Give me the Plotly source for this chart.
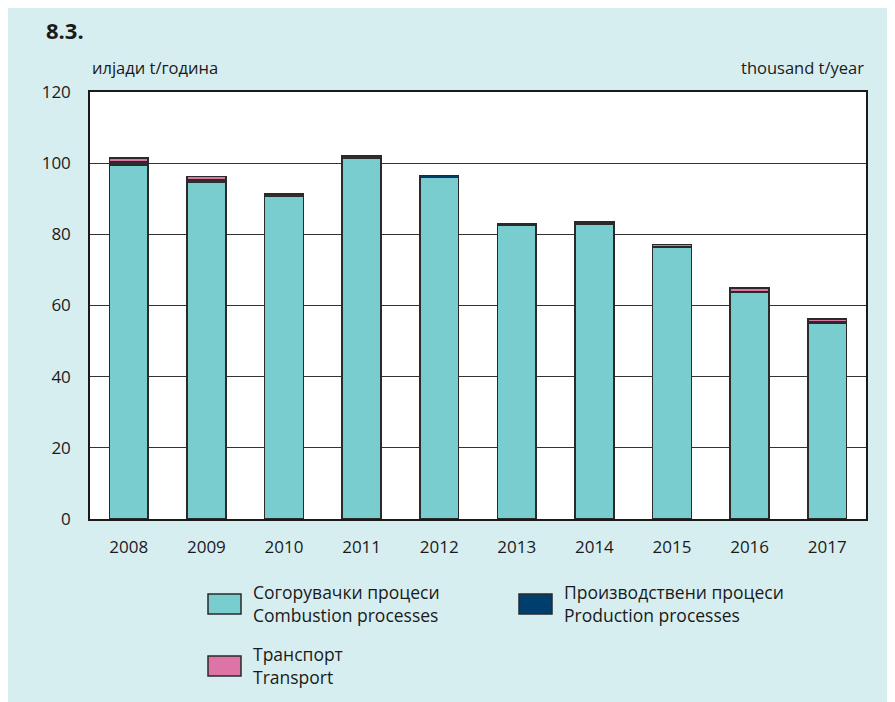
import plotly.graph_objects as go

years = ["2008", "2009", "2010", "2011", "2012", "2013", "2014", "2015", "2016", "2017"]
combustion = [99.5, 94.5, 90.6, 101.3, 96.0, 82.6, 82.8, 76.3, 63.6, 55.1]
production = [0.8, 0.8, 0.7, 0.7, 0.5, 0.4, 0.4, 0.3, 0.3, 0.2]
transport = [1.2, 1.0, 0.0, 0.1, 0.0, 0.0, 0.4, 0.6, 1.0, 0.9]

names = [
    ("Согорувачки процеси", "Combustion processes"),
    ("Производствени процеси", "Production processes"),
    ("Транспорт", "Transport"),
]
colors = ["#79cdcf", "#003e6e", "#dd74a6"]
series = [combustion, production, transport]

BG = "#d7eef0"
FONT = "Open Sans"

# page offset of the plot div (body margin)
OFF = 8
PL, PR, PT, PB = 90, 866, 92, 519  # plot area in page px
W, H = 895, 702


def px(x):
    return (x - PL) / (PR - PL)


def py(y):
    return (PB - y) / (PB - PT)


fig = go.Figure()
for (mk, en), vals, col in zip(names, series, colors):
    fig.add_trace(go.Bar(
        x=years, y=vals, name=en,
        marker=dict(color=col, line=dict(color="#2a2a2a", width=1.5)),
        width=0.5, showlegend=False,
    ))

fig.update_layout(
    barmode="stack",
    width=W, height=H,
    paper_bgcolor=BG, plot_bgcolor="white",
    margin=dict(l=PL - OFF, r=W - (PR - OFF), t=PT - OFF, b=H - (PB - OFF), autoexpand=False),
    font=dict(family=FONT, size=16, color="#1a1a1a"),
    xaxis=dict(showline=True, linecolor="#1a1a1a", linewidth=1.5, mirror=True,
               ticks="outside", ticklen=12, tickcolor="rgba(0,0,0,0)",
               tickfont=dict(size=17), showgrid=False),
    yaxis=dict(range=[0, 120], dtick=20, showline=True, linecolor="#1a1a1a", linewidth=1.5,
               mirror=True, gridcolor="#333333", gridwidth=1, ticks="outside",
               ticklen=14, tickcolor="rgba(0,0,0,0)", tickfont=dict(size=17), zeroline=False),
)

fig.add_annotation(text="<b>8.3.</b>", xref="paper", yref="paper", x=px(44), y=py(30),
                   xanchor="left", yanchor="middle", showarrow=False, font=dict(size=22))
fig.add_annotation(text="илјади t/година", xref="paper", yref="paper", x=px(90), y=py(68),
                   xanchor="left", yanchor="middle", showarrow=False, font=dict(size=16.5))
fig.add_annotation(text="thousand t/year", xref="paper", yref="paper", x=px(866), y=py(68),
                   xanchor="right", yanchor="middle", showarrow=False, font=dict(size=16.5))

# legend
leg_pos = [(208, 604), (519, 604), (208, 666)]
for (mk, en), col, (lx, ly) in zip(names, colors, leg_pos):
    fig.add_shape(type="rect", xref="paper", yref="paper",
                  x0=px(lx), x1=px(lx + 33), y0=py(ly + 10), y1=py(ly - 10),
                  fillcolor=col, line=dict(color="#2a2a2a", width=1.5))
    fig.add_annotation(text=mk + "<br>" + en, xref="paper", yref="paper",
                       x=px(lx + 43), y=py(ly - 1),
                       xanchor="left", yanchor="middle", align="left", showarrow=False,
                       font=dict(size=17.5))

fig.write_html("out.html")
